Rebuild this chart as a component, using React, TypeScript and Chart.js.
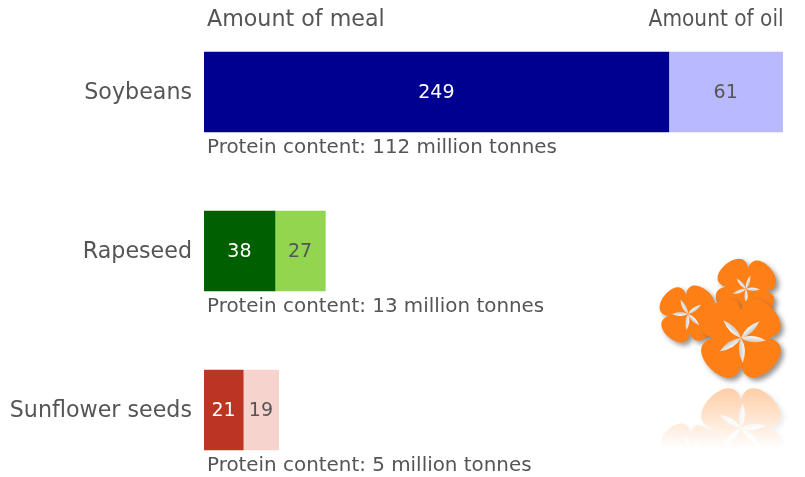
import React, { useEffect, useRef } from "react";
import { Chart, registerables } from "chart.js";

Chart.register(...registerables);

const categories = ["Soybeans", "Rapeseed", "Sunflower seeds"];
const mealAmounts = [249, 38, 21];
const oilAmounts = [61, 27, 19];
const proteinMillionTonnes = [112, 13, 5];
const mealColors = ["#000090", "#006000", "#bc3522"];
const oilColors = ["#b9b9ff", "#92d650", "#f7d3ce"];
const seriesHeaders = ["Amount of meal", "Amount of oil"];

const FONT = '"DejaVu Sans", sans-serif';
const TEXT = "#555555";

function flowerPath(ctx: CanvasRenderingContext2D, cx: number, cy: number, r: number, rot: number) {
  const lobes = 4;
  const step = (Math.PI * 2) / lobes;
  const notch = 0.6;
  const pull = 1.4;
  ctx.beginPath();
  for (let i = 0; i < lobes; i++) {
    const a = rot + i * step;
    const p0 = [cx + Math.cos(a) * r * notch, cy + Math.sin(a) * r * notch];
    const c1 = [cx + Math.cos(a + step * 0.08) * r * pull, cy + Math.sin(a + step * 0.08) * r * pull];
    const c2 = [cx + Math.cos(a + step * 0.92) * r * pull, cy + Math.sin(a + step * 0.92) * r * pull];
    const p1 = [cx + Math.cos(a + step) * r * notch, cy + Math.sin(a + step) * r * notch];
    if (i === 0) ctx.moveTo(p0[0], p0[1]);
    ctx.bezierCurveTo(c1[0], c1[1], c2[0], c2[1], p1[0], p1[1]);
  }
  ctx.closePath();
}

function drawFlower(ctx: CanvasRenderingContext2D, cx: number, cy: number, r: number, rot: number, arms: number[], armLen: number) {
  ctx.save();
  ctx.shadowColor = "rgba(90,90,90,0.65)";
  ctx.shadowBlur = 5;
  ctx.shadowOffsetX = 3;
  ctx.shadowOffsetY = 3;
  ctx.fillStyle = "#ff7f17";
  flowerPath(ctx, cx, cy, r, rot);
  ctx.fill();
  ctx.restore();
  arms.forEach((deg) => {
    const a = (deg * Math.PI) / 180;
    const w = armLen * 0.15;
    const tip = [cx + Math.cos(a) * armLen, cy + Math.sin(a) * armLen];
    const mid = [cx + Math.cos(a) * armLen * 0.45, cy + Math.sin(a) * armLen * 0.45];
    const nx = -Math.sin(a) * w;
    const ny = Math.cos(a) * w;
    const g = ctx.createLinearGradient(mid[0] - nx, mid[1] - ny, mid[0] + nx, mid[1] + ny);
    g.addColorStop(0, "#ffffff");
    g.addColorStop(1, "#c4c0bb");
    ctx.fillStyle = g;
    ctx.beginPath();
    ctx.moveTo(cx, cy);
    ctx.quadraticCurveTo(mid[0] + nx * 1.6, mid[1] + ny * 1.6, tip[0], tip[1]);
    ctx.quadraticCurveTo(mid[0] - nx * 1.6, mid[1] - ny * 1.6, cx, cy);
    ctx.fill();
  });
}

function drawCluster(ctx: CanvasRenderingContext2D) {
  drawFlower(ctx, 746, 289, 34, 0.1, [-72, 2, 90, 160, -132], 14);
  drawFlower(ctx, 688, 314, 32, -0.1, [-35, 45, 95, 180, -118], 16);
  drawFlower(ctx, 741, 338, 46, 0.0, [-42, 6, 86, 148, -135], 25);
}

const annotationsPlugin = {
  id: "annotations",
  afterDatasetsDraw(chart: any) {
    const { ctx, scales } = chart;
    const yScale = scales.y;
    const left = chart.chartArea.left;

    ctx.save();
    ctx.textBaseline = "middle";
    ctx.font = `19px ${FONT}`;
    chart.data.datasets.forEach((ds: any, d: number) => {
      const meta = chart.getDatasetMeta(d);
      meta.data.forEach((bar: any, i: number) => {
        ctx.fillStyle = d === 0 ? "#ffffff" : TEXT;
        ctx.textAlign = "center";
        const { x, base } = bar.getProps(["x", "base"], true);
        ctx.fillText(String(ds.data[i]), (x + base) / 2, bar.y + 1.5);
      });
    });

    ctx.fillStyle = TEXT;
    ctx.textAlign = "left";
    ctx.font = `19.9px ${FONT}`;
    categories.forEach((_, i) => {
      ctx.fillText(`Protein content: ${proteinMillionTonnes[i]} million tonnes`, left + 3, yScale.getPixelForValue(i) + 55.5);
    });

    ctx.font = `22.2px ${FONT}`;
    ctx.fillText(seriesHeaders[0], left + 3, 20);
    ctx.textAlign = "right";
    const firstOil = chart.getDatasetMeta(1).data[0];
    ctx.fillText(seriesHeaders[1], firstOil.x + 1, 20, 135);
    ctx.restore();

    // Decorative flowers and their faded reflection
    const off = document.createElement("canvas");
    off.width = chart.width;
    off.height = chart.height;
    const o = off.getContext("2d") as CanvasRenderingContext2D;
    const mirrorY = 383;
    o.translate(0, mirrorY * 2);
    o.scale(1, -1);
    drawCluster(o);
    o.setTransform(1, 0, 0, 1, 0, 0);
    o.globalCompositeOperation = "destination-in";
    const fade = o.createLinearGradient(0, mirrorY, 0, mirrorY + 66);
    fade.addColorStop(0, "rgba(0,0,0,0.42)");
    fade.addColorStop(1, "rgba(0,0,0,0)");
    o.fillStyle = fade;
    o.fillRect(0, mirrorY, off.width, 66);
    ctx.drawImage(off, 0, 0);
    drawCluster(ctx);
  },
};

export default function App() {
  const ref = useRef<HTMLCanvasElement>(null);
  useEffect(() => {
    if (!ref.current) return;
    const chart = new Chart(ref.current, {
      type: "bar",
      data: {
        labels: categories,
        datasets: [
          { label: seriesHeaders[0], data: mealAmounts, backgroundColor: mealColors, barThickness: 80 },
          { label: seriesHeaders[1], data: oilAmounts, backgroundColor: oilColors, barThickness: 80 },
        ],
      },
      options: {
        indexAxis: "y",
        animation: false,
        responsive: false,
        devicePixelRatio: 1,
        layout: { padding: { top: 12.5, bottom: 10.5, left: 0, right: 0 } },
        plugins: { legend: { display: false }, tooltip: { enabled: false }, title: { display: false } },
        scales: {
          x: { stacked: true, display: false, min: 0, max: 322 },
          y: {
            stacked: true,
            grid: { display: false, drawTicks: true, tickLength: 12 },
            border: { display: false },
            afterFit(scale: any) {
              scale.width = 204;
              scale.paddingTop = 0;
              scale.paddingBottom = 0;
            },
            ticks: { color: TEXT, font: { family: FONT, size: 22.2 }, padding: 0, autoSkip: false, labelOffset: 1.5 },
          },
        },
      },
      plugins: [annotationsPlugin],
    } as any);
    return () => chart.destroy();
  }, []);
  return (
    <div style={{ position: "absolute", left: 0, top: 0, width: 805, height: 477, overflow: "hidden", background: "#ffffff" }}>
      <canvas ref={ref} width={805} height={500} style={{ display: "block", filter: "blur(0.5px)" }} />
    </div>
  );
}
